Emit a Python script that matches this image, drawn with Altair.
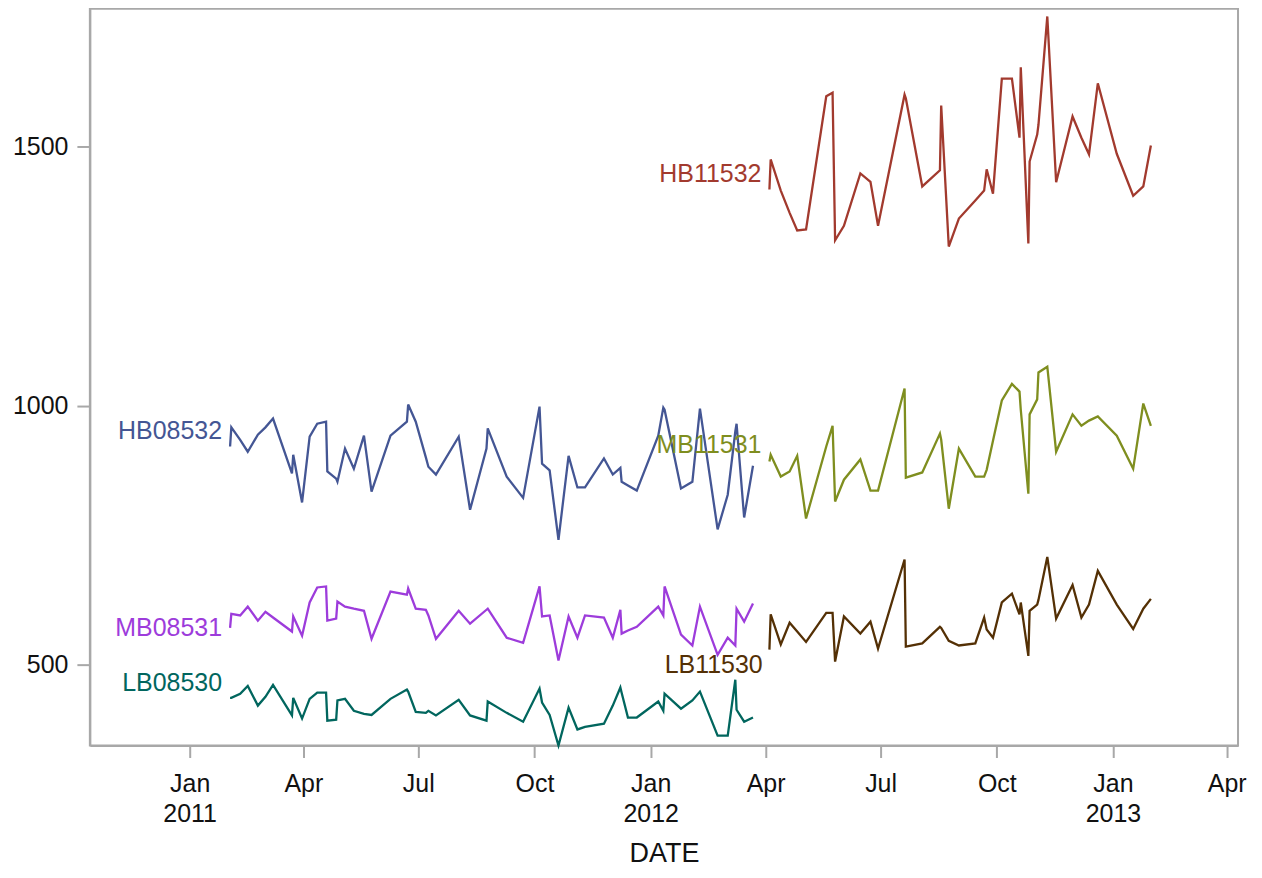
import altair as alt
import pandas as pd

# ---- data ----
dates_2011 = [
    "2011-02-02", "2011-02-03", "2011-02-10", "2011-02-16", "2011-02-24",
    "2011-03-02", "2011-03-08", "2011-03-23", "2011-03-24", "2011-03-31",
    "2011-04-06", "2011-04-12", "2011-04-19", "2011-04-20", "2011-04-27",
    "2011-04-28", "2011-05-04", "2011-05-11", "2011-05-19", "2011-05-25",
    "2011-06-09", "2011-06-22", "2011-06-23", "2011-06-29", "2011-07-07",
    "2011-07-09", "2011-07-15", "2011-08-02", "2011-08-11", "2011-08-24",
    "2011-08-25", "2011-09-09", "2011-09-22", "2011-10-05", "2011-10-07",
    "2011-10-13", "2011-10-20", "2011-10-28", "2011-11-04", "2011-11-10",
    "2011-11-25", "2011-12-02", "2011-12-08", "2011-12-09", "2011-12-14",
    "2011-12-21", "2012-01-07", "2012-01-11", "2012-01-12", "2012-01-25",
    "2012-02-03", "2012-02-09", "2012-02-23", "2012-03-02", "2012-03-08",
    "2012-03-09", "2012-03-15", "2012-03-22",
]
HB08532 = [921, 958, 934, 911, 944, 958, 975, 869, 905, 813,
           940, 965, 969, 873, 859, 853, 917, 878, 942, 834,
           942, 969, 1002, 969, 900, 882, 867, 940, 799, 917,
           956, 863, 822, 998, 888, 875, 741, 903, 842, 842,
           898, 867, 880, 853, 846, 836, 942, 996, 992, 840,
           853, 994, 761, 828, 950, 965, 784, 884]
MB08531 = [571, 598, 595, 612, 585, 602, 591, 564, 593, 556,
           620, 649, 651, 585, 589, 622, 612, 608, 604, 550,
           641, 635, 647, 608, 606, 595, 550, 604, 579, 606,
           608, 552, 542, 651, 593, 595, 508, 593, 552, 595,
           591, 552, 606, 560, 566, 573, 612, 595, 651, 558,
           537, 612, 519, 552, 537, 608, 583, 618]
LB08530 = [436, 436, 444, 459, 421, 438, 461, 402, 436, 396,
           434, 446, 446, 392, 394, 431, 434, 411, 405, 403,
           434, 452, 448, 409, 407, 411, 402, 432, 402, 392,
           429, 407, 390, 454, 427, 403, 344, 417, 375, 380,
           386, 421, 456, 446, 398, 398, 429, 411, 444, 415,
           431, 448, 363, 363, 471, 413, 390, 398]

dates_2012 = [
    "2012-04-04", "2012-04-05", "2012-04-13", "2012-04-20", "2012-04-26",
    "2012-05-03", "2012-05-19", "2012-05-24", "2012-05-26", "2012-06-02",
    "2012-06-15", "2012-06-23", "2012-06-29", "2012-07-20", "2012-07-21",
    "2012-08-03", "2012-08-17", "2012-08-18", "2012-08-24", "2012-09-01",
    "2012-09-14", "2012-09-21", "2012-09-23", "2012-09-28", "2012-10-05",
    "2012-10-13", "2012-10-19", "2012-10-20", "2012-10-26", "2012-10-27",
    "2012-11-02", "2012-11-03", "2012-11-10", "2012-11-17", "2012-11-30",
    "2012-12-07", "2012-12-13", "2012-12-20", "2013-01-04", "2013-01-17",
    "2013-01-25", "2013-01-31",
]
HB11532 = [1417, 1475, 1415, 1372, 1338, 1340, 1597, 1604, 1319, 1347,
           1448, 1432, 1347, 1600, 1593, 1423, 1454, 1579, 1307, 1361,
           1396, 1415, 1456, 1409, 1631, 1631, 1517, 1653, 1313, 1471,
           1523, 1542, 1751, 1431, 1558, 1517, 1485, 1622, 1486, 1405,
           1423, 1502]
MB11531 = [892, 905, 863, 873, 903, 782, 921, 961, 815, 857,
           896, 836, 836, 1033, 861, 871, 946, 934, 801, 917,
           863, 863, 876, 932, 1010, 1042, 1027, 992, 830, 983,
           1012, 1064, 1075, 911, 983, 961, 971, 979, 942, 878,
           1004, 961]
LB11530 = [529, 597, 539, 581, 564, 544, 600, 600, 506, 593,
           560, 583, 531, 703, 535, 541, 573, 571, 546, 537,
           541, 591, 568, 552, 620, 637, 597, 620, 517, 604,
           616, 625, 708, 589, 654, 591, 616, 681, 616, 569,
           608, 627]

series_names = ["HB08532", "HB11532", "LB08530", "LB11530", "MB08531", "MB11531"]
series_colors = ["#445694", "#A23A2E", "#01665E", "#543005", "#9D3CDB", "#7F8E1F"]

# curve labels (placed at the start of each curve)
label_names = ["HB08532", "MB08531", "LB08530", "HB11532", "MB11531", "LB11530"]
label_dates = ["2011-02-02", "2011-02-02", "2011-02-02", "2012-04-04", "2012-04-04", "2012-04-05"]
label_values = [950, 571, 465, 1446, 923, 500]

tick_dates = [(2011, 1), (2011, 4), (2011, 7), (2011, 10), (2012, 1), (2012, 4),
              (2012, 7), (2012, 10), (2013, 1), (2013, 4)]
y_ticks = [500, 1000, 1500]

# ---- build table ----
rows = []
for name, vals in [("HB08532", HB08532), ("MB08531", MB08531), ("LB08530", LB08530)]:
    for d, v in zip(dates_2011, vals):
        rows.append({"DATE": d, "value": v, "series": name})
for name, vals in [("HB11532", HB11532), ("MB11531", MB11531), ("LB11530", LB11530)]:
    for d, v in zip(dates_2012, vals):
        rows.append({"DATE": d, "value": v, "series": name})
df = pd.DataFrame(rows)
labels = pd.DataFrame({"DATE": label_dates, "value": label_values, "series": label_names})

FONT = "Liberation Sans"
GRAY = "#A8A8A8"

x_scale = alt.Scale(
    type="utc",
    domain=[alt.DateTime(year=2010, month=10, date=14, utc=True),
            alt.DateTime(year=2013, month=4, date=10, utc=True)],
)
y_scale = alt.Scale(domain=[344, 1766], nice=False, zero=False)
color_scale = alt.Scale(domain=series_names, range=series_colors)

x_axis = alt.Axis(
    title="DATE",
    values=[alt.DateTime(year=y, month=m, date=1, utc=True) for y, m in tick_dates],
    labelExpr="utcFormat(datum.value, '%m') == '01' ? [utcFormat(datum.value, '%b'), utcFormat(datum.value, '%Y')] : utcFormat(datum.value, '%b')",
    labelFontSize=25, labelFont=FONT, labelColor="#111111",
    labelLineHeight=30, labelPadding=14,
    tickSize=12, tickColor=GRAY, tickWidth=2,
    domainColor=GRAY, domainWidth=2,
    titleFontSize=27, titleFont=FONT, titleFontWeight="normal", titleColor="#111111",
    titlePadding=14, grid=False,
)
y_axis = alt.Axis(
    title=None, values=y_ticks, format="d",
    labelFontSize=25, labelFont=FONT, labelColor="#111111", labelPadding=9,
    tickSize=13, tickColor=GRAY, tickWidth=2,
    domainColor=GRAY, domainWidth=2, grid=False,
)

lines = alt.Chart(df).mark_line(strokeWidth=2.3).encode(
    x=alt.X("DATE:T", scale=x_scale, axis=x_axis),
    y=alt.Y("value:Q", scale=y_scale, axis=y_axis),
    color=alt.Color("series:N", scale=color_scale, legend=None),
    detail="series:N",
)

texts = alt.Chart(labels).mark_text(
    align="right", baseline="middle", dx=-8, fontSize=25, font=FONT
).encode(
    x=alt.X("DATE:T", scale=x_scale),
    y=alt.Y("value:Q", scale=y_scale),
    color=alt.Color("series:N", scale=color_scale, legend=None),
    text="series:N",
)

chart = (lines + texts).properties(
    width=1150, height=738,
    autosize=alt.AutoSizeParams(type="none"),
    padding={"left": 82, "top": 0, "right": 16, "bottom": 124},
    background="white",
).configure_view(stroke=GRAY, strokeWidth=2)

chart.save("out.html", embed_options={"renderer": "svg", "actions": False})
